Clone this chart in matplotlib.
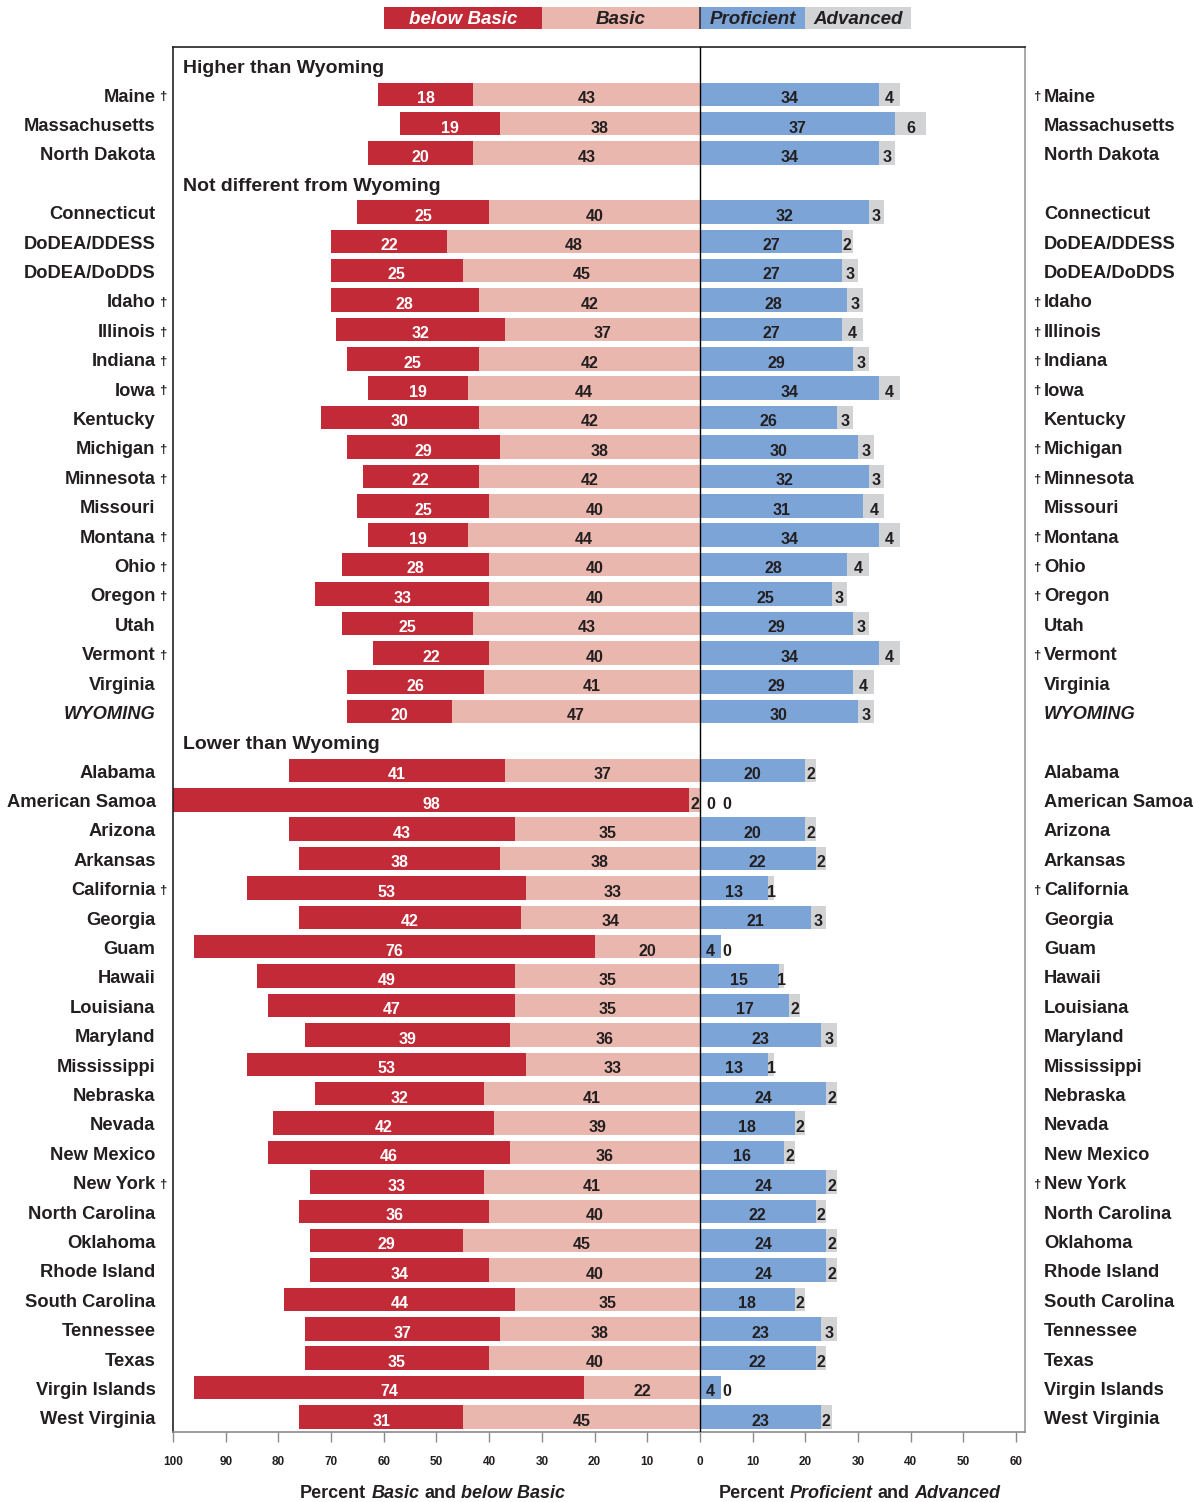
import matplotlib
matplotlib.use("Agg")
import matplotlib.pyplot as plt
from matplotlib.offsetbox import TextArea, HPacker, AnnotationBbox
import matplotlib.transforms as mtransforms

plt.rcParams['font.family'] = ['Liberation Sans', 'DejaVu Sans']

# ---------------- data ----------------
section_titles = ["Higher than Wyoming", "Not different from Wyoming", "Lower than Wyoming"]

states = [
    "Maine", "Massachusetts", "North Dakota",
    "Connecticut", "DoDEA/DDESS", "DoDEA/DoDDS", "Idaho", "Illinois", "Indiana", "Iowa",
    "Kentucky", "Michigan", "Minnesota", "Missouri", "Montana", "Ohio", "Oregon", "Utah",
    "Vermont", "Virginia", "WYOMING",
    "Alabama", "American Samoa", "Arizona", "Arkansas", "California", "Georgia", "Guam",
    "Hawaii", "Louisiana", "Maryland", "Mississippi", "Nebraska", "Nevada", "New Mexico",
    "New York", "North Carolina", "Oklahoma", "Rhode Island", "South Carolina", "Tennessee",
    "Texas", "Virgin Islands", "West Virginia",
]
group = [0] * 3 + [1] * 18 + [2] * 23

below_basic = [18, 19, 20,
               25, 22, 25, 28, 32, 25, 19, 30, 29, 22, 25, 19, 28, 33, 25, 22, 26, 20,
               41, 98, 43, 38, 53, 42, 76, 49, 47, 39, 53, 32, 42, 46, 33, 36, 29, 34, 44, 37, 35, 74, 31]
basic = [43, 38, 43,
         40, 48, 45, 42, 37, 42, 44, 42, 38, 42, 40, 44, 40, 40, 43, 40, 41, 47,
         37, 2, 35, 38, 33, 34, 20, 35, 35, 36, 33, 41, 39, 36, 41, 40, 45, 40, 35, 38, 40, 22, 45]
proficient = [34, 37, 34,
              32, 27, 27, 28, 27, 29, 34, 26, 30, 32, 31, 34, 28, 25, 29, 34, 29, 30,
              20, 0, 20, 22, 13, 21, 4, 15, 17, 23, 13, 24, 18, 16, 24, 22, 24, 24, 18, 23, 22, 4, 23]
advanced = [4, 6, 3,
            3, 2, 3, 3, 4, 3, 4, 3, 3, 3, 4, 4, 4, 3, 3, 4, 4, 3,
            2, 0, 2, 2, 1, 3, 0, 1, 2, 3, 1, 2, 2, 2, 2, 2, 2, 2, 2, 3, 2, 0, 2]
daggered = ["Maine", "Idaho", "Illinois", "Indiana", "Iowa", "Michigan", "Minnesota",
            "Montana", "Ohio", "Oregon", "Vermont", "California", "New York"]
focal_state = "WYOMING"

legend_labels = ["below Basic", "Basic", "Proficient", "Advanced"]
xtick_values = list(range(-100, 61, 10))
xtick_labels = [str(abs(v)) for v in xtick_values]

# ---------------- style ----------------
C_BELOW = "#C22A37"
C_BASIC = "#E9B7AD"
C_PROF = "#7DA4D6"
C_ADV = "#D1D3D4"
DARK = "#231F20"

W, H = 1194, 1502
fig = plt.figure(figsize=(W / 100, H / 100), dpi=100)
ax = fig.add_axes([173 / W, 1 - 1432 / H, (1025 - 173) / W, (1432 - 47) / H])
XMIN, XMAX = -100, 61.7
ax.set_xlim(XMIN, XMAX)

# compute slot positions (section headers take a slot)
ypos = []
header_pos = []
slot = 0
prev = None
for g in group:
    if g != prev:
        header_pos.append(slot)
        slot += 1
        prev = g
    ypos.append(slot)
    slot += 1
ax.set_ylim(46.51, -0.61)

bh = 0.8
ax.barh(ypos, below_basic, left=[-(b + s) for b, s in zip(below_basic, basic)],
        height=bh, color=C_BELOW, linewidth=0)
ax.barh(ypos, basic, left=[-s for s in basic], height=bh, color=C_BASIC, linewidth=0)
ax.barh(ypos, proficient, left=0, height=bh, color=C_PROF, linewidth=0)
ax.barh(ypos, advanced, left=proficient, height=bh, color=C_ADV, linewidth=0)

ax.axvline(0, color="black", linewidth=1.0, zorder=5)

vfs = 11.5
VOFF = 0.30   # baseline offset of value labels (in row units)
LOFF = 0.25   # baseline offset of state labels
for y, name, b, s, p, a in zip(ypos, states, below_basic, basic, proficient, advanced):
    ty = y + VOFF
    ax.text(-(s + b / 2), ty, str(b), ha="center", va="baseline", color="white",
            fontsize=vfs, fontweight="bold", zorder=6)
    ax.text(-s / 2, ty, str(s), ha="center", va="baseline", color=DARK,
            fontsize=vfs, fontweight="bold", zorder=6)
    px = p / 2 if p > 0 else 2.1
    ax.text(px, ty, str(p), ha="center", va="baseline", color=DARK,
            fontsize=vfs, fontweight="bold", zorder=6)
    axx = p + a / 2 if a > 0 else max(p, 4.2) + 0.85
    ax.text(axx, ty, str(a), ha="center", va="baseline", color=DARK,
            fontsize=vfs, fontweight="bold", zorder=6)

    style = "italic" if name == focal_state else "normal"
    ax.text(-103.3, y + LOFF, name, ha="right", va="baseline", fontsize=13.2, fontweight="bold",
            fontstyle=style, color=DARK, clip_on=False)
    ax.text(65.3, y + LOFF, name, ha="left", va="baseline", fontsize=13.2, fontweight="bold",
            fontstyle=style, color=DARK, clip_on=False)
    if name in daggered:
        ax.text(-102.0, y + LOFF - 0.04, "\u2020", ha="center", va="baseline", fontsize=9.5,
                fontweight="bold", color=DARK, clip_on=False)
        ax.text(63.9, y + LOFF - 0.04, "\u2020", ha="center", va="baseline", fontsize=9.5,
                fontweight="bold", color=DARK, clip_on=False)

for hp, title in zip(header_pos, section_titles):
    ax.text(-98.1, hp + 0.28, title, ha="left", va="baseline", fontsize=14, fontweight="bold",
            color=DARK)

# axes styling
ax.set_yticks([])
ax.set_xticks(xtick_values)
ax.set_xticklabels(xtick_labels, fontsize=8.5, fontweight="bold", color=DARK)
ax.tick_params(axis="x", direction="out", length=7, width=1, color="#8a8a8a", pad=10)
for side, col in [("top", "#222222"), ("left", "#222222"), ("right", "#9a9a9a"), ("bottom", "#8a8a8a")]:
    ax.spines[side].set_color(col)
    ax.spines[side].set_linewidth(1.2)


def rich(parts, fontsize, color):
    areas = [TextArea(t, textprops=dict(fontsize=fontsize, fontweight="bold",
                                        fontstyle=st, color=color)) for t, st in parts]
    return HPacker(children=areas, align="baseline", pad=0, sep=3.6)


trans = mtransforms.blended_transform_factory(ax.transData, fig.transFigure)
lab_y = 1 - 1493 / H
for xc, parts in [(-50.7, [("Percent", "normal"), ("Basic", "italic"), ("and", "normal"),
                           ("below Basic", "italic")]),
                  (30.3, [("Percent", "normal"), ("Proficient", "italic"), ("and", "normal"),
                          ("Advanced", "italic")])]:
    ab = AnnotationBbox(rich(parts, 13, DARK), (xc, lab_y), xycoords=trans,
                        box_alignment=(0.5, 0.5), frameon=False, annotation_clip=False)
    fig.add_artist(ab)

# legend bar
lax = fig.add_axes([173 / W, 1 - 29 / H, (1025 - 173) / W, 22 / H])
lax.set_xlim(XMIN, XMAX)
lax.set_ylim(0, 1)
lax.axis("off")
seg_left = [-60, -30, 0, 20]
seg_width = [30, 30, 20, 20]
seg_colors = [C_BELOW, C_BASIC, C_PROF, C_ADV]
seg_text_colors = ["white", DARK, DARK, DARK]
for l, w, c, tc, lab in zip(seg_left, seg_width, seg_colors, seg_text_colors, legend_labels):
    lax.barh(0.5, w, left=l, height=1.0, color=c, linewidth=0)
    lax.text(l + w / 2, 0.22, lab, ha="center", va="baseline", fontsize=13.5,
             fontweight="bold", fontstyle="italic", color=tc)
lax.axvline(0, color="#333333", linewidth=1.2)

fig.savefig("out.png", dpi=100)
